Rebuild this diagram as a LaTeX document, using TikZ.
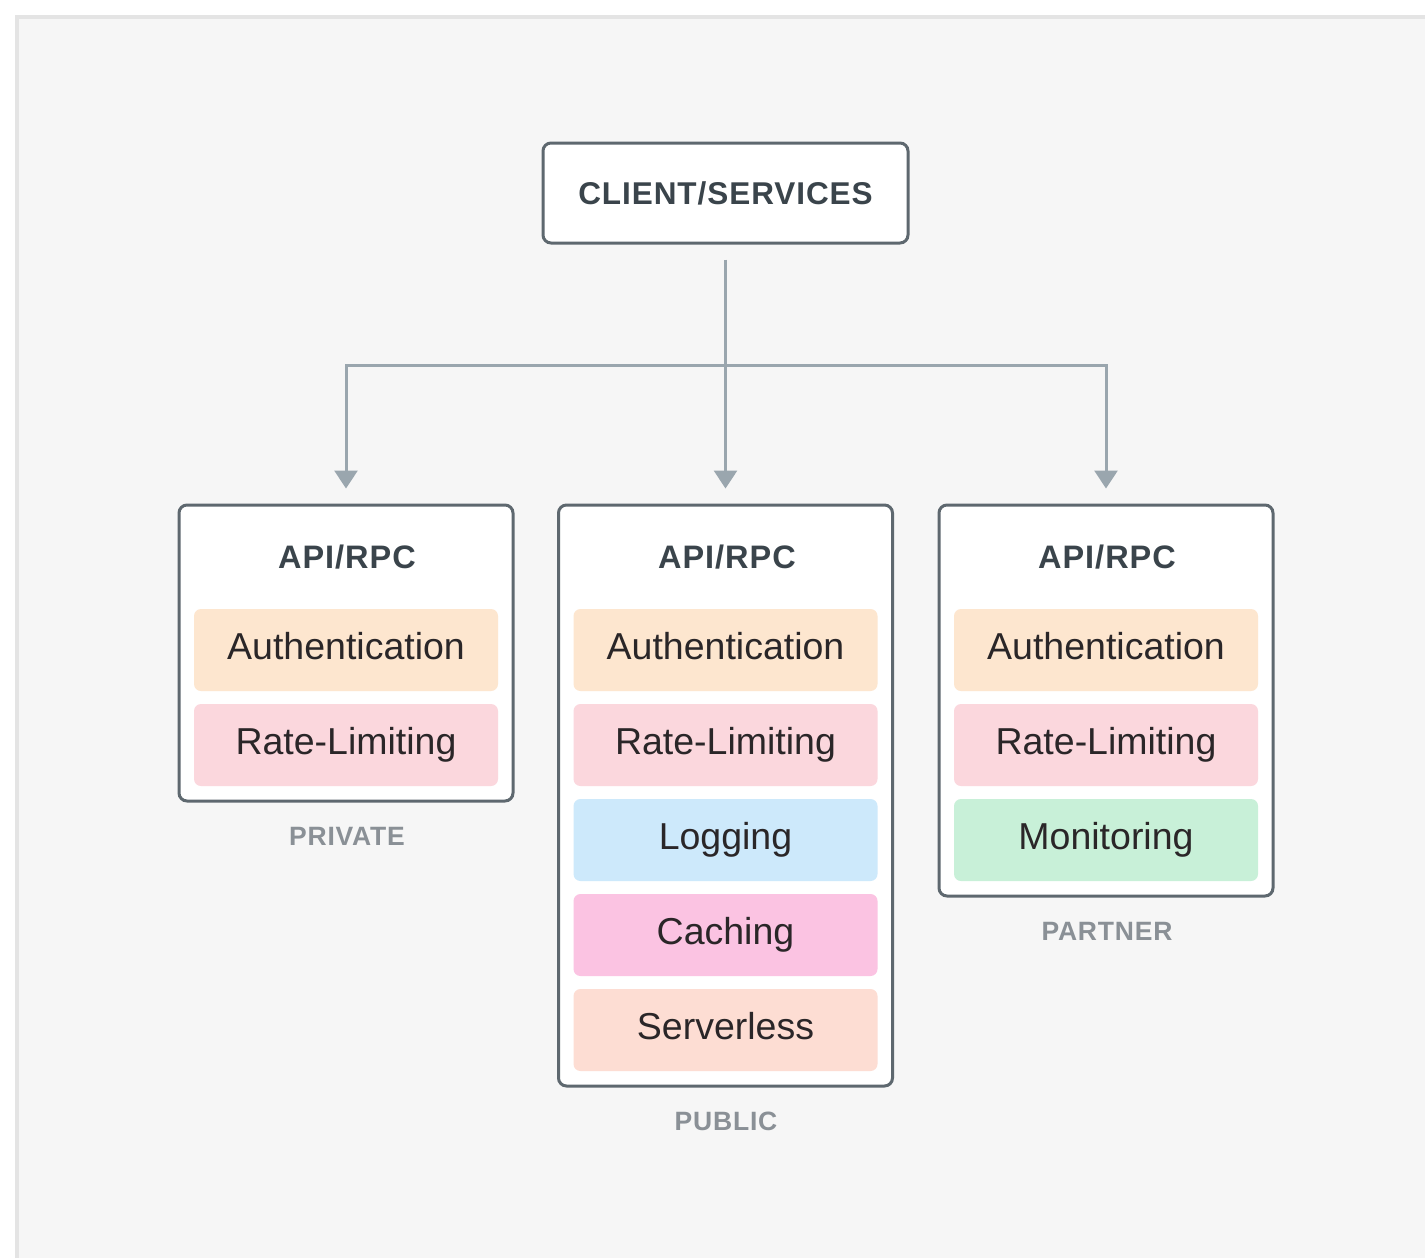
\documentclass[tikz,border=0pt]{standalone}
\usepackage{fontspec}
\setmainfont{Liberation Sans}
\usetikzlibrary{arrows.meta}
\definecolor{panelbg}{HTML}{F6F6F6}
\definecolor{panelline}{HTML}{E4E4E4}
\definecolor{boxline}{HTML}{5E686F}
\definecolor{arrowcol}{HTML}{9AA6AE}
\definecolor{titletext}{HTML}{3A444B}
\definecolor{bartext}{HTML}{2A2628}
\definecolor{grouptext}{HTML}{8A9096}
\definecolor{cauth}{HTML}{FDE6CF}
\definecolor{crate}{HTML}{FBD7DD}
\definecolor{clog}{HTML}{CDE9FB}
\definecolor{ccache}{HTML}{FBC3E2}
\definecolor{cserver}{HTML}{FDDDD3}
\definecolor{cmon}{HTML}{C8F0D8}
\newfontfamily\spacedbold[LetterSpace=3]{Liberation Sans Bold}
\tikzset{
  outerbox/.style={draw=boxline, line width=3pt, fill=white, rounded corners=8pt, minimum width=334pt, inner sep=0pt},
  clientbox/.style={draw=boxline, line width=3pt, fill=white, rounded corners=8pt, minimum width=365pt, minimum height=100pt, inner sep=0pt,
    font=\spacedbold\fontsize{31.5}{36}\selectfont, text=titletext},
  apititle/.style={font=\spacedbold\fontsize{32.5}{36}\selectfont, text=titletext, inner sep=0pt},
  bar/.style={rounded corners=7pt, minimum width=304pt, minimum height=82pt, inner sep=0pt,
    text height=27pt, text depth=9pt,
    font=\fontsize{37.5}{40}\selectfont, text=bartext},
  grouplabel/.style={font=\spacedbold\fontsize{26.5}{30}\selectfont, text=grouptext, inner sep=0pt},
  conn/.style={draw=arrowcol, line width=3pt, -{Triangle[width=23pt,length=18pt]}},
}
\begin{document}
\begin{tikzpicture}[x=1pt,y=-1pt]
\useasboundingbox (0,0) rectangle (1425,1258);
\clip (0,0) rectangle (1425,1258);
\fill[white] (0,0) rectangle (1425,1258);
\draw[panelline, line width=4pt, fill=panelbg] (17,17) rectangle (1445,1280);

% client
\node[clientbox] (client) at (725.5,193) {CLIENT/SERVICES};

% boxes
\node[outerbox, minimum height=296pt] (priv) at (346,653) {};
\node[outerbox, minimum height=581pt] (pub) at (725.5,795.5) {};
\node[outerbox, minimum height=391pt] (part) at (1106,700.5) {};

% titles
\node[apititle] (privt) at (347,557) {API/RPC};
\node[apititle] (pubt) at (727,557) {API/RPC};
\node[apititle] (partt) at (1107,557) {API/RPC};

% private bars
\node[bar, fill=cauth] (privauth) at (346,650) {Authentication};
\node[bar, fill=crate] (privrate) at (346,745) {Rate-Limiting};

% public bars
\node[bar, fill=cauth] (pubauth) at (725.5,650) {Authentication};
\node[bar, fill=crate] (pubrate) at (725.5,745) {Rate-Limiting};
\node[bar, fill=clog] (publog) at (725.5,840) {Logging};
\node[bar, fill=ccache] (pubcache) at (725.5,935) {Caching};
\node[bar, fill=cserver] (pubserver) at (725.5,1030) {Serverless};

% partner bars
\node[bar, fill=cauth] (partauth) at (1106,650) {Authentication};
\node[bar, fill=crate] (partrate) at (1106,745) {Rate-Limiting};
\node[bar, fill=cmon] (partmon) at (1106,840) {Monitoring};

% group labels
\node[grouplabel] (privl) at (347,836) {PRIVATE};
\node[grouplabel] (publ) at (726,1121) {PUBLIC};
\node[grouplabel] (partl) at (1107,931) {PARTNER};

% connectors
\coordinate (split) at (725.5,365);
\draw[conn, shorten <=15pt, shorten >=15pt] (client.south) -- (pub.north);
\draw[conn, shorten >=15pt] (split) -| (priv.north);
\draw[conn, shorten >=15pt] (split) -| (part.north);
\end{tikzpicture}
\end{document}
